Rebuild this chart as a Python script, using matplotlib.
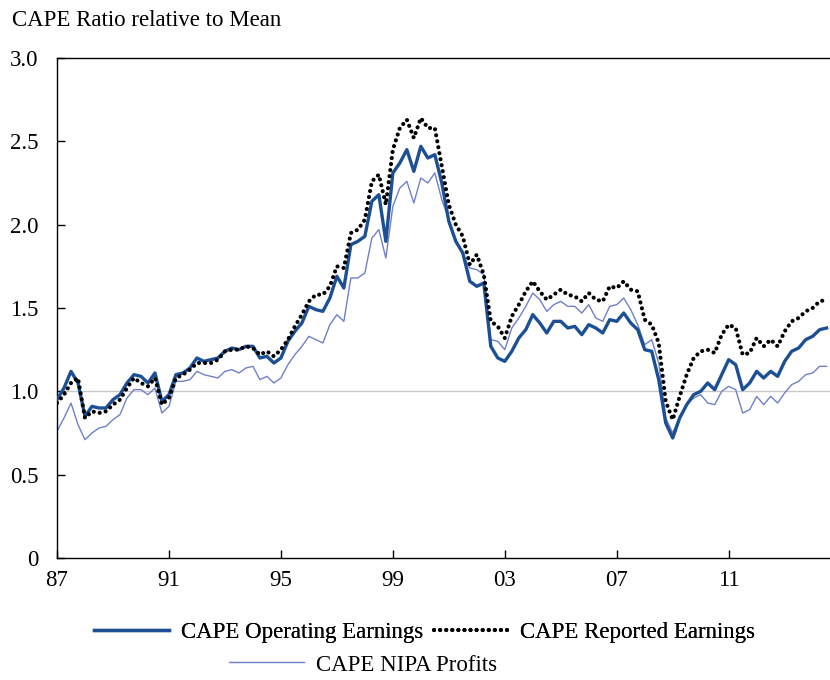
import matplotlib
matplotlib.use("Agg")
import matplotlib.pyplot as plt
import numpy as np
import pandas as pd

# quarterly observations, 1987Q1 .. 2014Q3
quarters = pd.period_range("1987Q1", "2014Q3", freq="Q")

cape_operating = [
    0.95, 1.02, 1.12, 1.05, 0.85, 0.91, 0.90, 0.90, 0.95, 0.98,
    1.05, 1.10, 1.09, 1.05, 1.11, 0.94, 0.98, 1.10, 1.11, 1.14,
    1.20, 1.18, 1.19, 1.20, 1.24, 1.26, 1.25, 1.27, 1.27, 1.20,
    1.21, 1.17, 1.20, 1.30, 1.36, 1.41, 1.51, 1.49, 1.48, 1.56,
    1.69, 1.62, 1.88, 1.90, 1.93, 2.14, 2.18, 1.90, 2.31, 2.37,
    2.45, 2.32, 2.47, 2.40, 2.42, 2.25, 2.02, 1.90, 1.83, 1.66,
    1.63, 1.65, 1.27, 1.20, 1.18, 1.24, 1.32, 1.37, 1.46, 1.41,
    1.35, 1.42, 1.42, 1.38, 1.39, 1.34, 1.40, 1.38, 1.35, 1.43,
    1.42, 1.47, 1.41, 1.37, 1.25, 1.24, 1.07, 0.81, 0.72, 0.84,
    0.92, 0.98, 1.00, 1.05, 1.01, 1.10, 1.19, 1.16, 1.01, 1.05,
    1.12, 1.08, 1.12, 1.09, 1.18, 1.24, 1.26, 1.31, 1.33, 1.37,
    1.38,
]

cape_reported = [
    0.93, 0.98, 1.05, 1.08, 0.84, 0.88, 0.87, 0.88, 0.92, 0.95,
    1.02, 1.08, 1.05, 1.03, 1.08, 0.92, 0.96, 1.08, 1.10, 1.13,
    1.17, 1.17, 1.17, 1.19, 1.24, 1.25, 1.25, 1.27, 1.26, 1.22,
    1.24, 1.21, 1.25, 1.31, 1.39, 1.46, 1.54, 1.58, 1.58, 1.63,
    1.75, 1.74, 1.95, 1.97, 2.03, 2.26, 2.30, 2.12, 2.45, 2.58,
    2.63, 2.52, 2.64, 2.58, 2.58, 2.35, 2.12, 2.00, 1.93, 1.76,
    1.82, 1.70, 1.42, 1.39, 1.32, 1.45, 1.52, 1.60, 1.66, 1.60,
    1.55, 1.58, 1.61, 1.58, 1.57, 1.54, 1.59, 1.55, 1.54, 1.63,
    1.62, 1.66, 1.61, 1.60, 1.43, 1.40, 1.29, 0.94, 0.83, 0.97,
    1.10, 1.20, 1.24, 1.25, 1.23, 1.34, 1.40, 1.38, 1.22, 1.23,
    1.32, 1.27, 1.31, 1.27, 1.36, 1.42, 1.44, 1.48, 1.50, 1.54,
    1.55,
]

cape_nipa = [
    0.76, 0.84, 0.93, 0.80, 0.71, 0.75, 0.78, 0.79, 0.83, 0.86,
    0.96, 1.01, 1.01, 0.98, 1.02, 0.87, 0.91, 1.06, 1.06, 1.07,
    1.12, 1.10, 1.09, 1.08, 1.12, 1.13, 1.11, 1.14, 1.15, 1.07,
    1.09, 1.05, 1.08, 1.16, 1.22, 1.27, 1.33, 1.31, 1.29, 1.40,
    1.46, 1.42, 1.68, 1.68, 1.71, 1.92, 1.97, 1.80, 2.11, 2.22,
    2.26, 2.13, 2.28, 2.25, 2.31, 2.15, 2.03, 1.90, 1.82, 1.74,
    1.73, 1.70, 1.31, 1.30, 1.25, 1.38, 1.44, 1.51, 1.59, 1.55,
    1.48, 1.52, 1.54, 1.51, 1.51, 1.47, 1.52, 1.44, 1.42, 1.51,
    1.52, 1.56, 1.49, 1.40, 1.28, 1.31, 1.17, 0.84, 0.75, 0.85,
    0.92, 0.96, 0.98, 0.93, 0.92, 1.00, 1.03, 1.01, 0.87, 0.89,
    0.97, 0.92, 0.97, 0.93, 0.99, 1.04, 1.06, 1.10, 1.11, 1.15,
    1.15,
]

x_ticks = [1987, 1991, 1995, 1999, 2003, 2007, 2011]
x_tick_labels = ["87", "91", "95", "99", "03", "07", "11"]
y_ticks = [0, 0.5, 1.0, 1.5, 2.0, 2.5, 3.0]
y_tick_labels = ["0", "0.5", "1.0", "1.5", "2.0", "2.5", "3.0"]

years = quarters.year + (quarters.quarter - 1) / 4.0

plt.rcParams["font.family"] = ["Liberation Serif", "DejaVu Serif"]
fs = 16.5

fig = plt.figure(figsize=(8.3, 6.8), dpi=100)
ax = fig.add_axes([57 / 830, 1 - 558 / 680, 1 - 57 / 830, 500 / 680])

ax.axhline(1.0, color="#c8c8c8", linewidth=1.0, zorder=1)

l_nipa, = ax.plot(years, cape_nipa, color="#6f80c8", linewidth=1.0, zorder=2,
                  label="CAPE NIPA Profits")
l_op, = ax.plot(years, cape_operating, color="#1c4f94", linewidth=2.4, zorder=3,
                label="CAPE Operating Earnings")
l_rep, = ax.plot(years, cape_reported, color="black", linewidth=3.0,
                 linestyle=(0, (0.01, 1.45)), dash_capstyle="round", zorder=4,
                 label="CAPE Reported Earnings")

ax.set_xlim(1987, 2014.62)
ax.set_ylim(0, 3.0)
ax.set_xticks(x_ticks)
ax.set_xticklabels(x_tick_labels)
ax.set_yticks(y_ticks)
ax.set_yticklabels(y_tick_labels)
ax.tick_params(axis="both", direction="in", length=6, width=1, labelsize=fs,
               colors="black")
ax.tick_params(axis="x", pad=9)
ax.tick_params(axis="y", pad=13.5)

ax.spines["right"].set_visible(False)
for s in ["left", "top", "bottom"]:
    ax.spines[s].set_linewidth(1.0)

fig.text(12 / 830, 1 - 20 / 680, "CAPE Ratio relative to Mean", fontsize=fs,
         ha="left", va="center")

leg1 = fig.legend(handles=[l_op, l_rep], loc="center", ncol=2,
                  bbox_to_anchor=(0.512, 1 - 632 / 680), frameon=False,
                  fontsize=fs, handlelength=3.27, handletextpad=0.52,
                  columnspacing=0.44)
fig.legend(handles=[l_nipa], loc="center",
           bbox_to_anchor=(0.437, 1 - 665 / 680), frameon=False,
           fontsize=fs, handlelength=3.27, handletextpad=0.52)
fig.add_artist(leg1)

fig.savefig("out.png", dpi=100)
